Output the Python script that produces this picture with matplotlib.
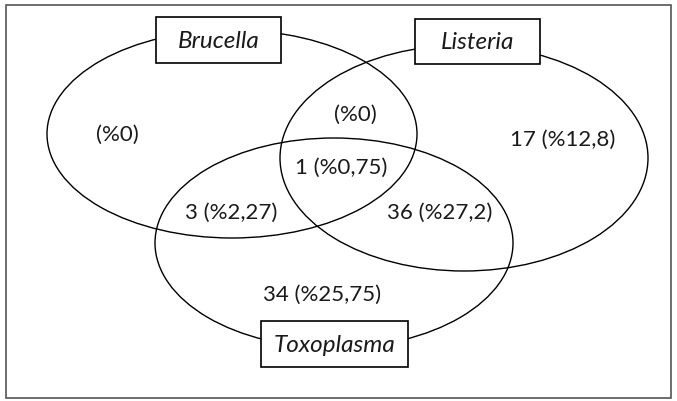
import matplotlib.pyplot as plt
from matplotlib.patches import Ellipse, Rectangle

# Venn data: set names and region counts / percentages
sets = ["Brucella", "Listeria", "Toxoplasma"]
regions = ["B only", "B&L", "L only", "B&L&T", "B&T", "L&T", "T only"]
counts = [None, None, 17, 1, 3, 36, 34]
percents = ["0", "0", "12,8", "0,75", "2,27", "27,2", "25,75"]

plt.rcParams['font.family'] = ['Lato', 'DejaVu Sans']

fig = plt.figure(figsize=(6.77, 4.01), dpi=100)
ax = fig.add_axes([0, 0, 1, 1])
ax.set_xlim(0, 677)
ax.set_ylim(401, 0)
ax.axis('off')

# outer frame
ax.add_patch(Rectangle((6, 5), 665, 393, fill=False, ec='#555555', lw=1.2))

# ellipses (center, width, height) in pixel units
ell = {
    "Brucella": ((232, 134), 370, 208),
    "Listeria": ((464, 158), 368, 226),
    "Toxoplasma": ((334, 243), 358, 210),
}
for name in sets:
    (cx, cy), w, h = ell[name]
    ax.add_patch(Ellipse((cx, cy), w, h, fill=False, ec='black', lw=1.0))

# name boxes
box_pos = {
    "Brucella": (156, 17, 125, 46),
    "Listeria": (415, 19, 125, 45),
    "Toxoplasma": (261, 321, 147, 46),
}
for name in sets:
    x, y, w, h = box_pos[name]
    ax.add_patch(Rectangle((x, y), w, h, fc='white', ec='black', lw=1.2, zorder=3))
    ax.text(x + w / 2, y + h / 2 + 1, name, ha='center', va='center',
            fontsize=17.5, style='italic', color='#1a1a1a', zorder=4)

# region labels
label_pos = {
    "B only": (117, 135),
    "B&L": (355, 115),
    "L only": (563, 140),
    "B&L&T": (341, 168),
    "B&T": (231, 213),
    "L&T": (440, 213),
    "T only": (322, 295),
}
for r, c, p in zip(regions, counts, percents):
    txt = f"(%{p})" if c is None else f"{c} (%{p})"
    x, y = label_pos[r]
    ax.text(x, y, txt, ha='center', va='center', fontsize=16, color='#1a1a1a')

fig.savefig("out.png", dpi=100)
